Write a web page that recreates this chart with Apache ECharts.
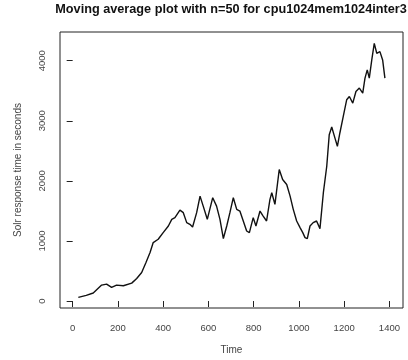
<!DOCTYPE html>
<html>
<head>
<meta charset="utf-8">
<script src="https://cdn.jsdelivr.net/npm/echarts@6/dist/echarts.min.js"></script>
<style>html,body{margin:0;padding:0;background:#fff}#c{width:408px;height:360px}</style>
</head>
<body>
<div id="c"></div>
<script>
var titleText = 'Moving average plot with n=50 for cpu1024mem1024inter3';
var xName = 'Time';
var yName = 'Solr response time in seconds';
var xTicks = [0, 200, 400, 600, 800, 1000, 1200, 1400];
var yTicks = [0, 1000, 2000, 3000, 4000];
var times = [25, 60, 91, 106, 128, 150, 172, 194, 224, 261, 283, 305, 324, 342, 356, 378, 400, 423, 438, 452, 474, 489, 504, 518, 530, 548, 563, 577, 595, 619, 636, 651, 666, 681, 695, 710, 725, 739, 754, 769, 781, 798, 810, 828, 842, 857, 872, 880, 894, 913, 928, 946, 961, 975, 990, 1005, 1017, 1027, 1037, 1049, 1063, 1078, 1093, 1108, 1123, 1134, 1145, 1159, 1170, 1181, 1196, 1211, 1223, 1238, 1252, 1267, 1282, 1292, 1302, 1311, 1322, 1333, 1344, 1358, 1370, 1380];
var values = [61, 95, 133, 187, 265, 282, 227, 265, 254, 298, 376, 476, 642, 808, 973, 1028, 1139, 1249, 1360, 1388, 1514, 1471, 1305, 1277, 1232, 1471, 1746, 1580, 1360, 1720, 1580, 1360, 1040, 1249, 1471, 1720, 1526, 1498, 1332, 1166, 1139, 1388, 1249, 1498, 1415, 1332, 1692, 1803, 1609, 2189, 2023, 1940, 1746, 1526, 1332, 1222, 1139, 1056, 1040, 1249, 1305, 1332, 1205, 1803, 2244, 2769, 2897, 2715, 2576, 2797, 3073, 3350, 3405, 3295, 3488, 3544, 3461, 3710, 3847, 3710, 4013, 4290, 4124, 4151, 4013, 3710];

var data = times.map(function (t, i) { return [t, values[i]]; });
var txt = '#444';
var fmt = function (v) { return String(v); };
var chart = echarts.init(document.getElementById('c'));
chart.setOption({
  animation: false,
  backgroundColor: '#fff',
  title: {
    text: titleText,
    left: 231,
    top: 3,
    padding: 0,
    textAlign: 'center',
    textStyle: { fontFamily: 'Liberation Sans', fontWeight: 'bold', fontSize: 12.7, color: '#111' }
  },
  grid: { left: 60, top: 32, right: 5, bottom: 51, show: true, borderColor: '#222', borderWidth: 1, backgroundColor: 'transparent' },
  xAxis: {
    type: 'value', min: -56, max: 1460,
    name: xName, nameLocation: 'middle', nameGap: 37,
    nameTextStyle: { fontFamily: 'Liberation Sans', fontSize: 10, color: txt },
    axisLine: { show: false },
    axisTick: { show: true, inside: false, length: 6, lineStyle: { color: '#222' }, customValues: xTicks },
    axisLabel: { margin: 15, fontFamily: 'Liberation Sans', fontSize: 9.5, color: txt, customValues: xTicks, formatter: fmt },
    splitLine: { show: false }
  },
  yAxis: {
    type: 'value', min: -116, max: 4478,
    name: yName, nameLocation: 'middle', nameGap: 37,
    nameTextStyle: { fontFamily: 'Liberation Sans', fontSize: 10, color: txt },
    axisLine: { show: false },
    axisTick: { show: true, inside: false, length: 6, lineStyle: { color: '#222' }, customValues: yTicks },
    axisLabel: { margin: 13, rotate: 90, fontFamily: 'Liberation Sans', fontSize: 9.5, color: txt, customValues: yTicks, formatter: fmt },
    splitLine: { show: false }
  },
  series: [{
    type: 'line', data: data, showSymbol: false, symbol: 'none',
    lineStyle: { color: '#111', width: 1.4 }
  }]
});
</script>
</body>
</html>
